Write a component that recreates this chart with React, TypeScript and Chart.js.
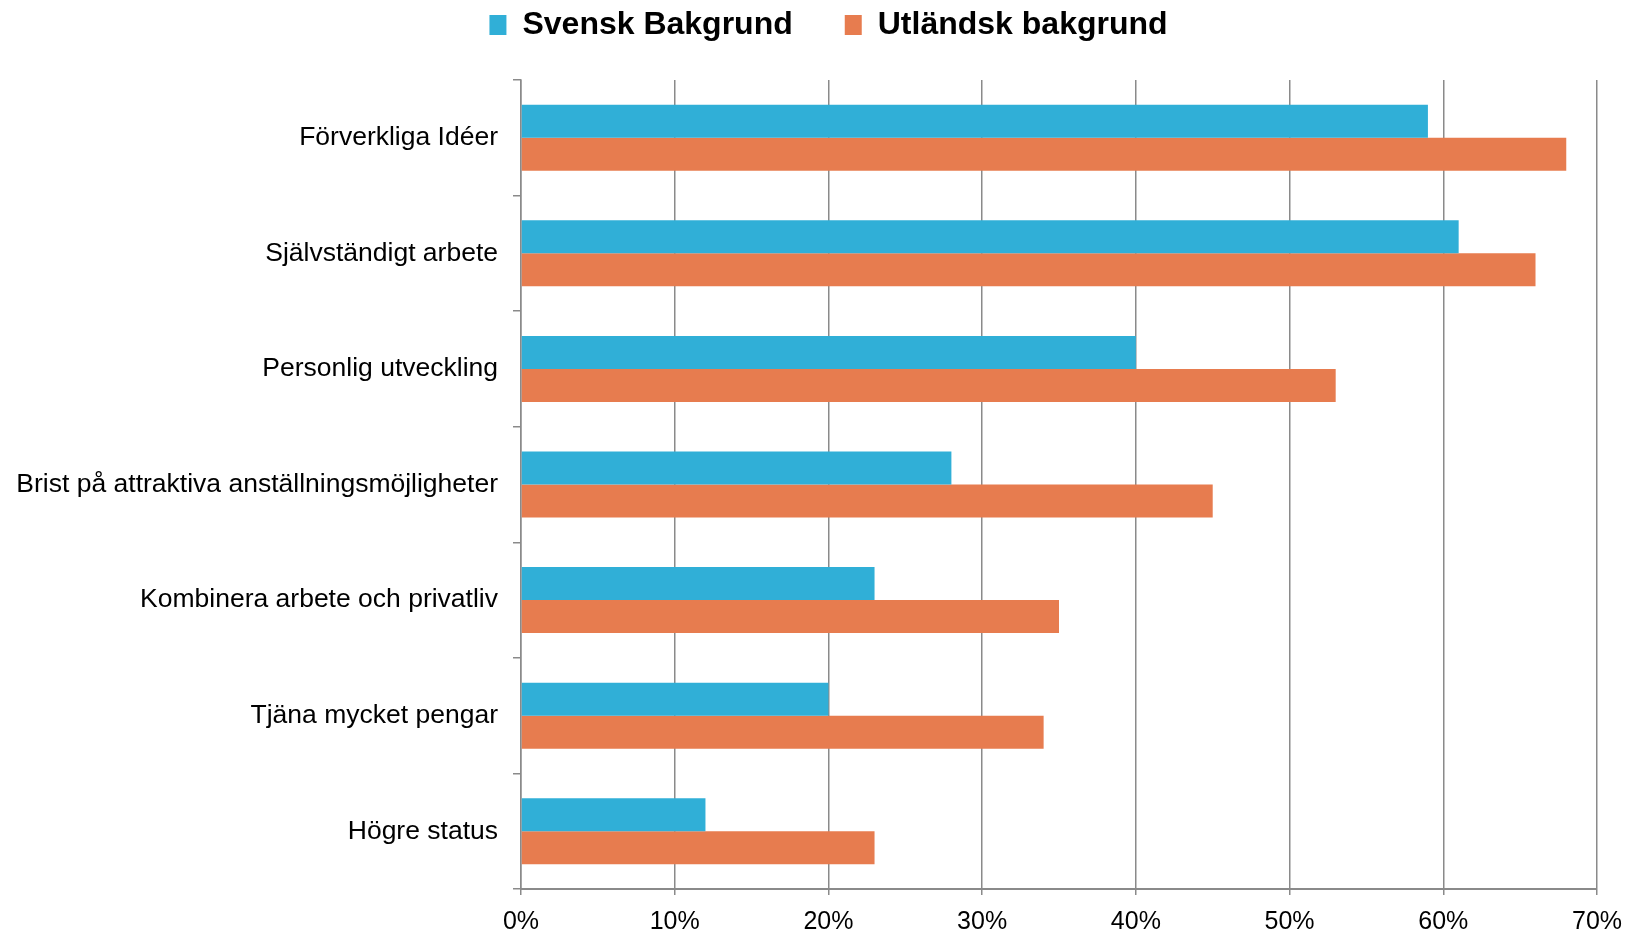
import React, { useEffect, useRef } from "react";
import { Chart, registerables } from "chart.js";

Chart.register(...registerables);

const categories = [
  "Förverkliga Idéer",
  "Självständigt arbete",
  "Personlig utveckling",
  "Brist på attraktiva anställningsmöjligheter",
  "Kombinera arbete och privatliv",
  "Tjäna mycket pengar",
  "Högre status",
];
const svensk = [59, 61, 40, 28, 23, 20, 12];
const utlandsk = [68, 66, 53, 45, 35, 34, 23];
const seriesNames = ["Svensk Bakgrund", "Utländsk bakgrund"];
const xTicks = [0, 10, 20, 30, 40, 50, 60, 70];

const FONT = "'Liberation Sans', Arial, Helvetica, sans-serif";

export default function App() {
  const ref = useRef<HTMLCanvasElement | null>(null);
  useEffect(() => {
    document.body.style.margin = "0";
    const legendPlugin = {
      id: "legendTweak",
      beforeInit(chart: any) {
        const lg = chart.legend;
        if (!lg) return;
        const orig = lg.fit;
        lg.fit = function () {
          orig.call(this);
          this.height = 80;
        };
      },
      afterLayout(chart: any) {
        const lg = chart.legend;
        if (!lg) return;
        const dy = -43;
        const dx = 30;
        lg.top += dy;
        lg.left += dx;
        lg.right += dx;
      },
    };
    const chart = new Chart(ref.current as HTMLCanvasElement, {
      type: "bar",
      data: {
        labels: categories,
        datasets: [
          {
            label: seriesNames[0],
            data: svensk,
            backgroundColor: "#30AFD7",
            borderWidth: 0,
            categoryPercentage: 0.571,
            barPercentage: 1,
          },
          {
            label: seriesNames[1],
            data: utlandsk,
            backgroundColor: "#E77C4F",
            borderWidth: 0,
            categoryPercentage: 0.571,
            barPercentage: 1,
          },
        ],
      },
      options: {
        indexAxis: "y",
        responsive: false,
        animation: false,
        layout: { padding: { left: 0, right: 43, top: 0, bottom: 0 } },
        plugins: {
          legend: {
            position: "top",
            labels: {
              boxWidth: 17,
              boxHeight: 20,
              padding: 52,
              color: "#000",
              font: { size: 32, weight: "bold", family: FONT },
            },
          },
          tooltip: { enabled: false },
        },
        scales: {
          x: {
            min: 0,
            max: 70,
            afterBuildTicks(scale: any) {
              scale.ticks = xTicks.map((v) => ({ value: v }));
            },
            afterFit(scale: any) {
              scale.height = 44;
            },
            ticks: {
              color: "#000",
              padding: 12,
              font: { size: 25, family: FONT },
              callback: (v: any) => v + "%",
            },
            grid: {
              color: "#8A8A8A",
              lineWidth: 1.5,
              tickLength: 6,
              drawTicks: true,
            },
            border: { color: "#8A8A8A", width: 2 },
          },
          y: {
            afterFit(scale: any) {
              scale.width = 521;
            },
            ticks: {
              color: "#000",
              padding: 15,
              font: { size: 26.5, family: FONT },
            },
            grid: {
              offset: true,
              drawOnChartArea: false,
              drawTicks: true,
              tickLength: 8,
              color: "#8A8A8A",
              lineWidth: 1.5,
            },
            border: { color: "#8A8A8A", width: 1.5 },
          },
        },
      },
      plugins: [legendPlugin],
    } as any);
    return () => chart.destroy();
  }, []);
  return (
    <div style={{ position: "absolute", left: 0, top: 0, width: 1640, height: 933, background: "#fff" }}>
      <canvas ref={ref} width={1640} height={933} style={{ display: "block" }} />
    </div>
  );
}
